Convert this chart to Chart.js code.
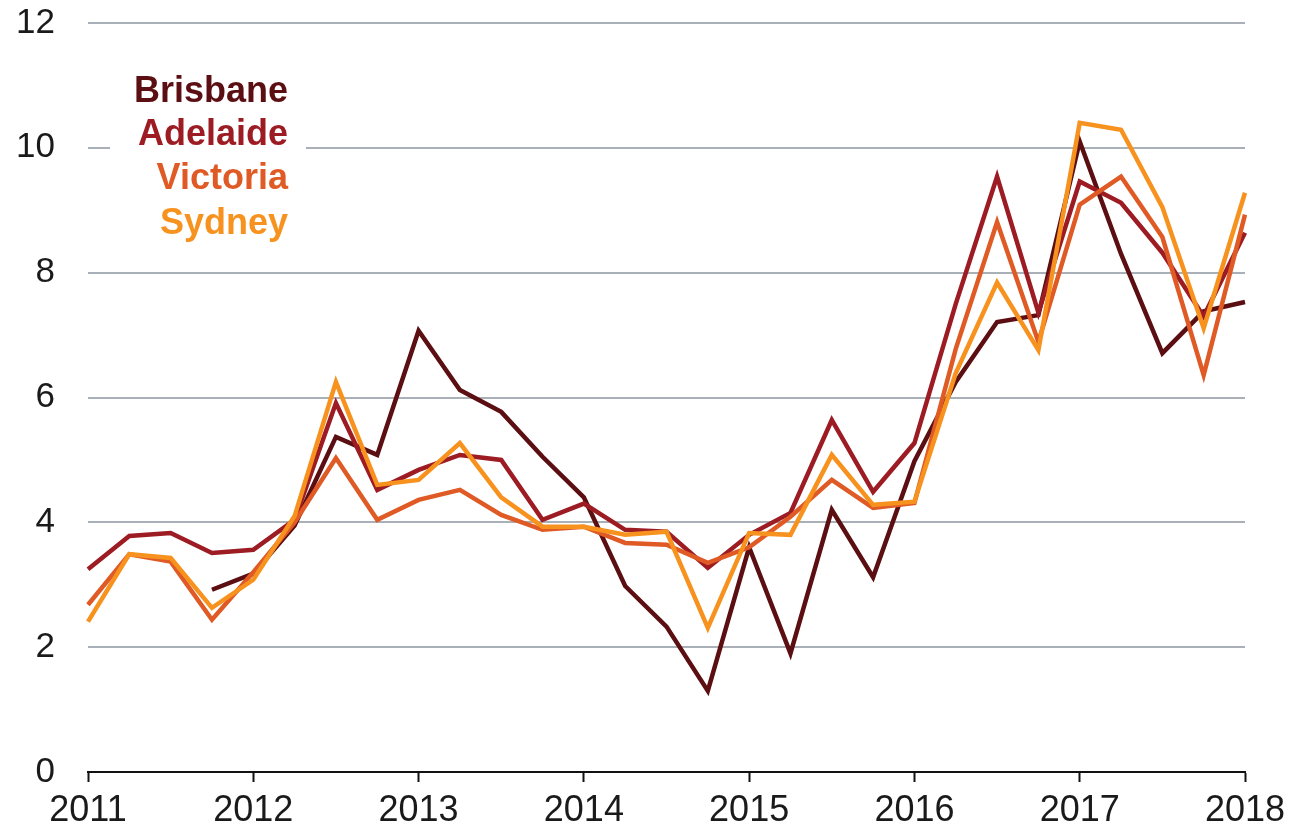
<!DOCTYPE html>
<html>
<head>
<meta charset="utf-8">
<script src="https://cdn.jsdelivr.net/npm/chart.js@4.4.1/dist/chart.umd.min.js"></script>
<style>
html,body{margin:0;padding:0;background:#fff;}
#wrap{width:1312px;height:834px;position:relative;}
</style>
</head>
<body>
<div id="wrap"><canvas id="c" width="1312" height="834"></canvas></div>
<script>
const quarters = ['2011Q1','2011Q2','2011Q3','2011Q4','2012Q1','2012Q2','2012Q3','2012Q4',
  '2013Q1','2013Q2','2013Q3','2013Q4','2014Q1','2014Q2','2014Q3','2014Q4',
  '2015Q1','2015Q2','2015Q3','2015Q4','2016Q1','2016Q2','2016Q3','2016Q4',
  '2017Q1','2017Q2','2017Q3','2017Q4','2018Q1'];
const seriesNames = ['Brisbane','Adelaide','Victoria','Sydney'];
const brisbane = [null,null,null,2.92,3.18,3.95,5.37,5.08,7.07,6.12,5.77,5.05,4.4,2.98,2.33,1.3,3.6,1.9,4.2,3.12,4.98,6.25,7.21,7.32,10.1,8.3,6.71,7.38,7.53];
const adelaide = [3.25,3.78,3.83,3.51,3.56,4.04,5.91,4.52,4.84,5.08,5.0,4.04,4.3,3.88,3.85,3.27,3.8,4.15,5.64,4.49,5.27,7.5,9.54,7.36,9.46,9.12,8.32,7.3,8.64];
const victoria = [2.68,3.49,3.37,2.44,3.2,4.0,5.03,4.04,4.36,4.52,4.12,3.88,3.93,3.67,3.64,3.35,3.6,4.09,4.68,4.23,4.31,6.78,8.81,6.89,9.09,9.54,8.57,6.36,8.93];
const sydney = [2.41,3.49,3.43,2.63,3.08,4.1,6.25,4.6,4.68,5.27,4.4,3.93,3.93,3.8,3.85,2.31,3.83,3.8,5.08,4.28,4.33,6.39,7.84,6.76,10.4,10.29,9.05,7.11,9.28];
const yTicks = [0,2,4,6,8,10,12];
const colors = ['#5c0f12','#9d1c24','#df5a24','#f7921e'];

const legendPlugin = {
  id: 'cityLegend',
  afterDraw(chart) {
    const ctx = chart.ctx;
    ctx.save();
    ctx.fillStyle = '#ffffff';
    ctx.fillRect(110, 62, 196, 186);
    ctx.font = 'bold 36px "Liberation Sans", Arial, sans-serif';
    ctx.textAlign = 'right';
    ctx.textBaseline = 'alphabetic';
    const baselines = [102, 145, 189, 234];
    seriesNames.forEach((n, i) => {
      ctx.fillStyle = colors[i];
      ctx.fillText(n, 288, baselines[i]);
    });
    ctx.restore();
  }
};

const seriesData = [brisbane, adelaide, victoria, sydney];
new Chart(document.getElementById('c'), {
  type: 'line',
  data: {
    labels: quarters,
    datasets: seriesNames.map((n, i) => ({
      label: n,
      data: seriesData[i],
      borderColor: colors[i],
      backgroundColor: colors[i],
      borderWidth: 4.5,
      pointRadius: 0,
      tension: 0,
      spanGaps: false,
      order: 3 - i
    }))
  },
  options: {
    responsive: false,
    animation: false,
    devicePixelRatio: 1,
    layout: { padding: { left: 0, right: 67, top: 23, bottom: 0 } },
    plugins: { legend: { display: false }, tooltip: { enabled: false } },
    scales: {
      x: {
        type: 'category',
        offset: false,
        grid: {
          display: true,
          drawOnChartArea: false,
          drawTicks: true,
          tickLength: 10,
          tickWidth: 2,
          tickColor: (c) => (c.index % 4 === 0 ? '#111111' : 'rgba(0,0,0,0)')
        },
        border: { display: true, color: '#111111', width: 2 },
        ticks: {
          autoSkip: false,
          maxRotation: 0,
          minRotation: 0,
          padding: 7,
          color: '#1a1a1a',
          font: { family: '"Liberation Sans", Arial, sans-serif', size: 36 },
          callback: function(v, i) { return i % 4 === 0 ? quarters[i].slice(0, 4) : ''; }
        },
        afterFit(scale) { scale.height = 62; scale.paddingLeft = 0; scale.paddingRight = 0; }
      },
      y: {
        min: 0,
        max: 12,
        afterBuildTicks(scale) { scale.ticks = yTicks.map(v => ({ value: v })); },
        grid: {
          color: (c) => (c.tick && c.tick.value === 0 ? 'rgba(0,0,0,0)' : '#a9b0b8'),
          lineWidth: 2,
          drawTicks: false
        },
        border: { display: false },
        ticks: {
          padding: 33,
          color: '#1a1a1a',
          font: { family: '"Liberation Sans", Arial, sans-serif', size: 35 }
        },
        afterFit(scale) { scale.width = 88; scale.paddingTop = 0; scale.paddingBottom = 0; }
      }
    }
  },
  plugins: [legendPlugin]
});
</script>
</body>
</html>
